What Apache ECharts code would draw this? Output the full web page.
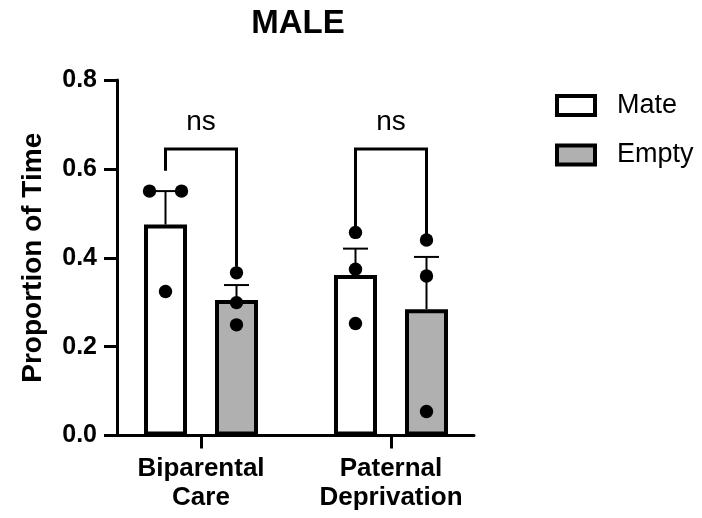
<!DOCTYPE html>
<html>
<head>
<meta charset="utf-8">
<script src="https://cdn.jsdelivr.net/npm/echarts@6/dist/echarts.min.js"></script>
<style>
  html, body { margin: 0; padding: 0; background: #fff; }
  #chart { width: 702px; height: 518px; }
</style>
</head>
<body>
<div id="chart"></div>
<script>
// data
const categories = ['Biparental\nCare', 'Paternal\nDeprivation'];
const seriesNames = ['Mate', 'Empty'];
const matePoints = [[0.550, 0.550, 0.324], [0.457, 0.374, 0.252]];
const emptyPoints = [[0.366, 0.299, 0.249], [0.440, 0.359, 0.054]];
// bracket: [top, left end, right end]
const brackets = [[0.645, 0.596, 0.380], [0.645, 0.467, 0.447]];
const bracketLabels = ['ns', 'ns'];
const yTicks = [0, 0.2, 0.4, 0.6, 0.8];

// layout (px)
const mateJitter = [[-16, 16, 0], [0, 0, 0]];
const emptyJitter = [[0, 0, 0], [0, 0, 0]];
const barW = 43, barGapPx = 28;
const sideOff = (barW + barGapPx) / 2;
const pxPerCat = 190;
const xMin = 1 - 84 / pxPerCat, xMax = 2 + 83 / pxPerCat;
const FONT = 'Liberation Sans, Arial, Helvetica, sans-serif';

function mean(a) { return a.reduce((s, v) => s + v, 0) / a.length; }
function sem(a) {
  const m = mean(a);
  const v = a.reduce((s, x) => s + (x - m) * (x - m), 0) / (a.length - 1);
  return Math.sqrt(v / a.length);
}

const groups = [matePoints, emptyPoints];
const jitters = [mateJitter, emptyJitter];
const barFill = ['#ffffff', '#b0b0b0'];

const barSeries = seriesNames.map((name, s) => ({
  name: name,
  type: 'bar',
  barWidth: barW,
  barGap: (barGapPx / barW * 100) + '%',
  itemStyle: { color: barFill[s], borderColor: '#000', borderWidth: 4 },
  emphasis: { disabled: true },
  data: groups[s].map((pts, g) => [g + 1, mean(pts)])
}));

// error bars: [group, mean, upper, side]
const errData = [];
const dotData = [];
groups.forEach((grp, s) => {
  grp.forEach((pts, g) => {
    const m = mean(pts);
    errData.push([g + 1, m, m + sem(pts), s === 0 ? -1 : 1]);
    pts.forEach((v, k) => dotData.push([g + 1, v, s === 0 ? -1 : 1, jitters[s][g][k]]));
  });
});

const errSeries = {
  type: 'custom',
  z: 3,
  silent: true,
  data: errData,
  renderItem: function (params, api) {
    const base = api.coord([api.value(0), api.value(1)]);
    const top = api.coord([api.value(0), api.value(2)]);
    const x = base[0] + api.value(3) * sideOff;
    return {
      type: 'group',
      children: [
        { type: 'line', shape: { x1: x, y1: base[1], x2: x, y2: top[1] }, style: { stroke: '#000', lineWidth: 2 } },
        { type: 'line', shape: { x1: x - 12.5, y1: top[1], x2: x + 12.5, y2: top[1] }, style: { stroke: '#000', lineWidth: 2 } }
      ]
    };
  }
};

const dotSeries = {
  type: 'custom',
  z: 4,
  silent: true,
  data: dotData,
  renderItem: function (params, api) {
    const p = api.coord([api.value(0), api.value(1)]);
    return {
      type: 'circle',
      shape: { cx: p[0] + api.value(2) * sideOff + api.value(3), cy: p[1], r: 6.7 },
      style: { fill: '#000' }
    };
  }
};

const bracketSeries = {
  type: 'custom',
  z: 5,
  silent: true,
  data: brackets.map((b, g) => [g + 1, b[0], b[1], b[2]]),
  renderItem: function (params, api) {
    const g = api.value(0);
    const t = api.coord([g, api.value(1)]);
    const l = api.coord([g, api.value(2)]);
    const r = api.coord([g, api.value(3)]);
    const lx = t[0] - sideOff, rx = t[0] + sideOff;
    return {
      type: 'group',
      children: [
        { type: 'polyline', shape: { points: [[lx, l[1]], [lx, t[1]], [rx, t[1]], [rx, r[1]]] },
          style: { stroke: '#000', lineWidth: 3, fill: null } },
        { type: 'text', x: t[0], y: t[1] - 27,
          style: { text: bracketLabels[params.dataIndex], fill: '#000', font: '28px ' + FONT,
                   textAlign: 'center', textVerticalAlign: 'middle' } }
      ]
    };
  }
};

const chart = echarts.init(document.getElementById('chart'), null, { renderer: 'canvas' });
chart.setOption({
  animation: false,
  backgroundColor: '#fff',
  textStyle: { fontFamily: FONT },
  title: {
    text: 'MALE',
    left: 293,
    textAlign: 'center',
    top: 2,
    textStyle: { fontSize: 33, fontWeight: 'bold', color: '#000', fontFamily: FONT }
  },
  legend: {
    data: seriesNames,
    orient: 'vertical',
    left: 550,
    top: 87,
    icon: 'rect',
    itemWidth: 38,
    itemHeight: 19,
    itemGap: 22.5,
    selectedMode: false,
    itemStyle: { borderColor: '#000', borderWidth: 4 },
    textStyle: { fontSize: 27, color: '#000', fontFamily: FONT, padding: [0, 0, 0, 17] }
  },
  grid: { left: 117, top: 80, width: 357, bottom: 82.5, containLabel: false },
  xAxis: {
    type: 'value',
    min: xMin,
    max: xMax,
    splitLine: { show: false },
    axisLine: { show: true, lineStyle: { color: '#000', width: 3 } },
    axisTick: { show: true, customValues: [1, 2], length: 13, lineStyle: { color: '#000', width: 3 } },
    axisLabel: {
      customValues: [1, 2],
      formatter: v => categories[Math.round(v) - 1],
      fontSize: 26, fontWeight: 'bold', color: '#000', lineHeight: 29, margin: 19, fontFamily: FONT
    }
  },
  yAxis: {
    type: 'value',
    min: yTicks[0],
    max: yTicks[yTicks.length - 1],
    interval: 0.2,
    name: 'Proportion of Time',
    nameLocation: 'middle',
    nameGap: 70,
    nameTextStyle: { fontSize: 28, fontWeight: 'bold', color: '#000', fontFamily: FONT },
    splitLine: { show: false },
    axisLine: { show: true, lineStyle: { color: '#000', width: 3 } },
    axisTick: { show: true, length: 13, lineStyle: { color: '#000', width: 3 } },
    axisLabel: { formatter: v => v.toFixed(1), fontSize: 25, fontWeight: 'bold', color: '#000', margin: 20, fontFamily: FONT }
  },
  series: barSeries.concat([errSeries, dotSeries, bracketSeries])
});
</script>
</body>
</html>
